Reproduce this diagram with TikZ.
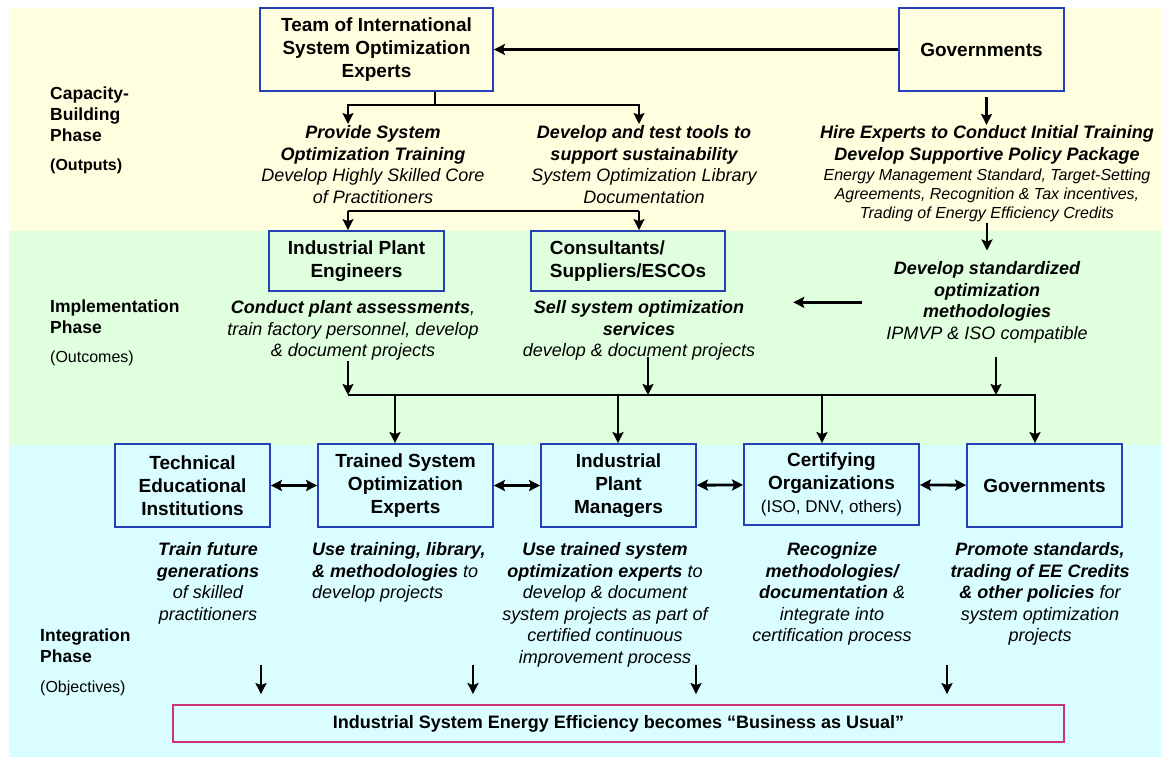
\documentclass[tikz,border=0pt]{standalone}
\usepackage{fontspec}
\setmainfont{Liberation Sans}
\usepackage{tikz}
\usetikzlibrary{arrows.meta, positioning, calc}
\definecolor{bandyellow}{RGB}{255,255,224}
\definecolor{bandgreen}{RGB}{224,255,222}
\definecolor{bandcyan}{RGB}{218,253,255}
\definecolor{boxblue}{RGB}{36,64,180}
\definecolor{goalred}{RGB}{204,51,119}
\newcommand{\boxfnt}{\bfseries\fontsize{19}{23}\selectfont}
\newcommand{\descfnt}{\itshape\fontsize{18}{21.5}\selectfont}
\newcommand{\notefnt}{\itshape\fontsize{16}{19}\selectfont}
\newcommand{\phasefnt}{\bfseries\fontsize{17.5}{21}\selectfont}
\newcommand{\parenfnt}{\fontsize{16}{19}\selectfont}

\begin{document}
\begin{tikzpicture}[x=1pt, y=-1pt,
box/.style = {draw=boxblue, line width=1.8pt, align=center, inner sep=0pt, font=\boxfnt},
desc/.style = {align=center, inner sep=0pt, anchor=north, font=\descfnt},
phase/.style = {align=left, inner sep=0pt, anchor=north west, font=\phasefnt},
heavy/.style = {line width=2.9pt},
light/.style = {line width=1.7pt},
>={Stealth[length=11pt, width=11pt, inset=2pt]}]

\useasboundingbox (0,0) rectangle (1161,757);

% phase bands
\fill[bandyellow] (9,8) rectangle (1161,231);
\fill[bandgreen] (9,231) rectangle (1161,445);
\fill[bandcyan] (9,445) rectangle (1161,757);

% phase labels
\node (capacity) [phase] at (50,87) {Capacity-\\Building\\Phase};
\node (outputs) [anchor=west, inner sep=0pt, font=\bfseries\parenfnt] at (50,166) {(Outputs)};
\node (implement) [phase] at (50,300) {Implementation\\Phase};
\node (outcomes) [anchor=west, inner sep=0pt, font=\parenfnt] at (50,358) {(Outcomes)};
\node (integrate) [phase] at (40,629) {Integration\\Phase};
\node (objectives) [anchor=west, inner sep=0pt, font=\parenfnt] at (40,688) {(Objectives)};

% capacity building
\node (team) [box, minimum width=233, minimum height=83] at (376.5,49.5) {Team of International\\System Optimization\\Experts};
\node (govtop) [box, minimum width=165, minimum height=83] at (981.5,49.5) {Governments};
\node (provide) [desc] at (373,125.5) {\textbf{Provide System}\\\textbf{Optimization Training}\\Develop Highly Skilled Core\\of Practitioners};
\node (tools) [desc] at (644,125.5) {\textbf{Develop and test tools to}\\\textbf{support sustainability}\\System Optimization Library\\Documentation};
\node (hire) [desc] at (987,125.5) {\textbf{Hire Experts to Conduct Initial Training}\\\textbf{Develop Supportive Policy Package}};
\node (policy) [desc, font=\notefnt] at (987,169) {Energy Management Standard, Target-Setting\\Agreements, Recognition \& Tax incentives,\\Trading of Energy Efficiency Credits};

% implementation
\node (engineers) [box, minimum width=175, minimum height=60] at (356.5,261) {Industrial Plant\\Engineers};
\node (consult) [box, align=left, minimum width=194, minimum height=60] at (628,261) {Consultants/\\Suppliers/ESCOs};
\node (conduct) [desc] at (353,300.5) {\textbf{Conduct plant assessments},\\train factory personnel, develop\\\& document projects};
\node (sell) [desc] at (639,300.5) {\textbf{Sell system optimization}\\\textbf{services}\\develop \& document projects};
\node (standard) [desc] at (987,261.5) {\textbf{Develop standardized}\\\textbf{optimization}\\\textbf{methodologies}\\IPMVP \& ISO compatible};

% integration
\node (technical) [box, minimum width=155, minimum height=83] at (192.5,485.5) {Technical\\Educational\\Institutions};
\node (trained) [box, minimum width=175, minimum height=83] at (405.5,485.5) {Trained System\\Optimization\\Experts};
\node (managers) [box, minimum width=155, minimum height=83] at (618.5,485.5) {Industrial\\Plant\\Managers};
\node (certify) [box, minimum width=175, minimum height=81] at (831.5,484.5) {Certifying\\Organizations\\{\mdseries\fontsize{17}{23}\selectfont (ISO, DNV, others)}};
\node (govbot) [box, minimum width=155, minimum height=83] at (1044.5,485.5) {Governments};
\node (trainfut) [desc] at (208,542.5) {\textbf{Train future}\\\textbf{generations}\\of skilled\\practitioners};
\node (usetrain) [desc, align=left, anchor=north west] at (312,542.5) {\textbf{Use training, library,}\\\textbf{\& methodologies} to\\develop projects};
\node (usetrained) [desc] at (605,542.5) {\textbf{Use trained system}\\\textbf{optimization experts} to\\develop \& document\\system projects as part of\\certified continuous\\improvement process};
\node (recognize) [desc] at (832,542.5) {\textbf{Recognize}\\\textbf{methodologies/}\\\textbf{documentation} \&\\integrate into\\certification process};
\node (promote) [desc] at (1040,542.5) {\textbf{Promote standards,}\\\textbf{trading of EE Credits}\\\textbf{\& other policies} for\\system optimization\\projects};
\node (goal) [box, draw=goalred, font=\bfseries\fontsize{18}{22}\selectfont, minimum width=891, minimum height=37] at (618.5,723.5) {Industrial System Energy Efficiency becomes “Business as Usual”};

% junctions
\coordinate (teamtap) at (435,105);
\coordinate (provpin) at (348,124);
\coordinate (toolpin) at (639,124);
\coordinate (engpin) at (348,211);
\coordinate (conpin) at (639,211);
\coordinate (busL) at (348,395);
\coordinate (busR) at (1035,395);
\coordinate (sellout) at (648,357);
\coordinate (stdout) at (996,357);

% connections
\draw[heavy, line width=3.4pt, ->] (govtop) -- (team);
\draw[light] (team.south -| teamtap) -- (teamtap);
\draw[light, ->] (teamtap) -| (provpin);
\draw[light, ->] (teamtap) -| (toolpin);
\draw[light] (engpin) -- (conpin);
\draw[light, ->] (engpin) -- (engpin |- engineers.north);
\draw[light, ->] (conpin) -- (conpin |- consult.north);
\draw[heavy, ->] (govtop.south) ++(5,5) -- ++(0,28);
\draw[heavy, ->] (standard.north) ++(0,-39) -- ++(0,28);
\draw[heavy, ->] (standard.west) ++(-24,0) -- ++(-69,0);

\draw[heavy] (busL) -- (busR);
\draw[heavy, ->] (conduct.south -| busL) -- (busL);
\draw[heavy, ->] (sellout) -- (sellout |- busL);
\draw[heavy, ->] (stdout) -- (stdout |- busL);
\foreach \n/\dx in {trained/-10.5, managers/-0.5, certify/-9.5, govbot/-9.5}
  \draw[heavy, ->] (\n.north) ++(\dx,-49) -- ++(0,49);

\foreach \a/\b in {technical/trained, trained/managers, managers/certify, certify/govbot}
  \draw[heavy, <->] (\a) -- (\b);

\foreach \dx in {-357.5, -145.5, 77.5, 328.5}
  \draw[heavy, ->] (goal.north) ++(\dx,-39) -- ++(0,29);

\end{tikzpicture}
\end{document}
